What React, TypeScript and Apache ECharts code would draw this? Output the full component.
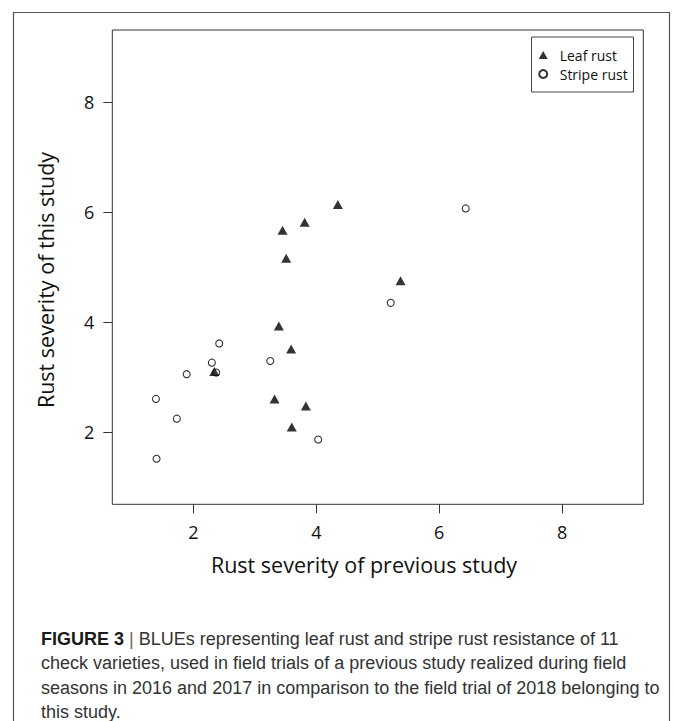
import React, { useEffect, useRef } from "react";
import * as echarts from "echarts";

// Leaf rust (filled triangles): previous study (x) vs this study (y)
const leafRustX = [4.35, 3.81, 3.45, 3.51, 5.37, 3.39, 3.59, 2.34, 3.32, 3.83, 3.6];
const leafRustY = [6.14, 5.82, 5.67, 5.16, 4.75, 3.93, 3.51, 3.1, 2.6, 2.47, 2.09];
// Stripe rust (open circles)
const stripeRustX = [6.43, 5.21, 2.42, 2.3, 3.25, 2.37, 1.89, 1.39, 1.73, 4.03, 1.4];
const stripeRustY = [6.07, 4.35, 3.61, 3.26, 3.29, 3.08, 3.05, 2.6, 2.24, 1.86, 1.51];

const tickValues = [2, 4, 6, 8];
const axisMin = 0.68;
const axisMax = 9.32;

const seriesNames = ["Leaf rust", "Stripe rust"];
const xTitle = "Rust severity of previous study";
const yTitle = "Rust severity of this study";
const captionBold = "FIGURE 3";
const captionLines = [
  "BLUEs representing leaf rust and stripe rust resistance of 11",
  "check varieties, used in field trials of a previous study realized during field",
  "seasons in 2016 and 2017 in comparison to the field trial of 2018 belonging to",
  "this study.",
];

const axisFont = "'Open Sans', 'Noto Sans', sans-serif";
const captionFont = "'Liberation Sans', Arial, sans-serif";
const captionCenters = [638.5, 663, 687.5, 711.5];

export default function App() {
  const ref = useRef<HTMLDivElement>(null);

  useEffect(() => {
    if (!ref.current) return;
    const chart = echarts.init(ref.current, undefined, { renderer: "svg" });

    const pair = (xs: number[], ys: number[]) => xs.map((x, i) => [x, ys[i]]);

    const axisCommon = (pos: "bottom" | "left") => ({
      type: "value" as const,
      position: pos,
      min: axisMin,
      max: axisMax,
      axisLine: { show: false },
      splitLine: { show: false },
      axisTick: {
        show: true,
        inside: false,
        length: 9,
        customValues: tickValues,
        lineStyle: { color: "#333", width: 1 },
      },
      axisLabel: {
        show: true,
        customValues: tickValues,
        margin: pos === "bottom" ? 19 : 18,
        color: "#111",
        fontFamily: axisFont,
        fontSize: 18,
      },
    });

    const captionStyle = {
      fontFamily: captionFont,
      fontSize: 18,
      lineHeight: 18,
    };

    const captionGraphics = captionLines.map((line, i) => ({
      type: "text",
      x: 41,
      y: captionCenters[i],
      style:
        i === 0
          ? {
              text: `{b|${captionBold}} {s||} {n|${line}}`,
              ...captionStyle,
              fill: "#333",
              align: "left",
              verticalAlign: "middle",
              rich: {
                b: { ...captionStyle, fontWeight: "bold", fill: "#1a1a1a" },
                s: { ...captionStyle, fill: "#666" },
                n: { ...captionStyle, fill: "#333" },
              },
            }
          : {
              text: line,
              ...captionStyle,
              fill: "#333",
              align: "left",
              verticalAlign: "middle",
            },
    }));

    chart.setOption({
      animation: false,
      backgroundColor: "#fff",
      grid: {
        left: 112.3,
        top: 30,
        width: 531,
        height: 474.3,
        show: true,
        borderColor: "#333",
        borderWidth: 1,
        backgroundColor: "transparent",
      },
      xAxis: axisCommon("bottom"),
      yAxis: axisCommon("left"),
      legend: {
        orient: "vertical",
        left: 538.2,
        top: 47,
        padding: 0,
        itemWidth: 9,
        itemHeight: 8,
        itemGap: 3,
        selectedMode: false,
        data: [
          { name: seriesNames[0], icon: "triangle" },
          { name: seriesNames[1], icon: "circle" },
        ],
        textStyle: {
          fontFamily: axisFont,
          fontSize: 14,
          lineHeight: 16,
          color: "#111",
          padding: [0, 0, 0, 7],
        },
      },
      series: [
        {
          name: seriesNames[0],
          type: "scatter",
          symbol: "triangle",
          symbolSize: [10, 9],
          itemStyle: { color: "#000" },
          data: pair(leafRustX, leafRustY),
        },
        {
          name: seriesNames[1],
          type: "scatter",
          symbol: "circle",
          symbolSize: 7,
          itemStyle: { color: "rgba(0,0,0,0)", borderColor: "#000", borderWidth: 1.1 },
          data: pair(stripeRustX, stripeRustY),
        },
      ],
      graphic: [
        {
          type: "rect",
          shape: { x: 13.5, y: 12.5, width: 656, height: 740 },
          style: { fill: "none", stroke: "#555", lineWidth: 1.2 },
          silent: true,
          z: -1,
        },
        {
          type: "rect",
          shape: { x: 531.5, y: 37, width: 102, height: 55 },
          style: { fill: "none", stroke: "#444", lineWidth: 1 },
          silent: true,
        },
        {
          type: "text",
          x: 364,
          y: 564,
          style: {
            text: xTitle,
            fontFamily: axisFont,
            fontSize: 21.5,
            fill: "#111",
            align: "center",
            verticalAlign: "middle",
          },
        },
        {
          type: "text",
          x: 45,
          y: 280,
          rotation: Math.PI / 2,
          style: {
            text: yTitle,
            fontFamily: axisFont,
            fontSize: 21.5,
            fill: "#111",
            align: "center",
            verticalAlign: "middle",
          },
        },
        ...captionGraphics,
      ],
    });

    return () => chart.dispose();
  }, []);

  return (
    <div
      ref={ref}
      style={{ position: "absolute", left: 0, top: 0, width: 674, height: 721 }}
    />
  );
}
